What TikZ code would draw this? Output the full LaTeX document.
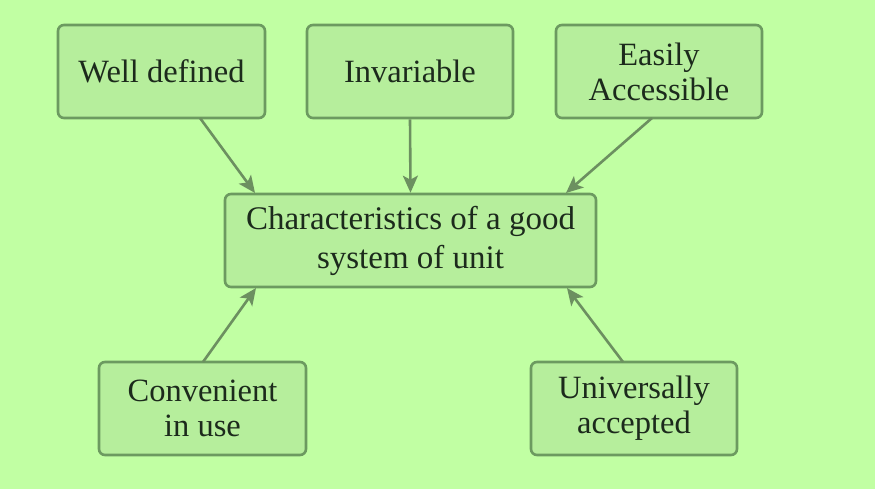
\documentclass[tikz,border=0pt]{standalone}
\usepackage{fontspec}
\setmainfont{Liberation Serif}
\usetikzlibrary{arrows.meta}
\definecolor{bgc}{HTML}{C1FFA3}
\definecolor{boxfill}{HTML}{B6EE9C}
\definecolor{boxdraw}{HTML}{6C9A60}
\definecolor{arrc}{HTML}{6C9060}
\definecolor{txt}{HTML}{1C2A1C}
\tikzset{
  card/.style={draw=boxdraw, fill=boxfill, line width=2.6pt, rounded corners=6pt,
    minimum height=93pt, inner sep=0pt, align=center, text=txt,
    font=\fontsize{32.5}{35}\selectfont},
  link/.style={draw=arrc, line width=2.6pt, -{Stealth[length=17pt,width=15pt,inset=4pt]}}
}
\begin{document}
\begin{tikzpicture}[x=1pt,y=-1pt]
\fill[bgc] (0,0) rectangle (875,489);
\useasboundingbox (0,0) rectangle (875,489);
\node[card, minimum width=207pt] (wd) at (161.5,71.5) {Well defined};
\node[card, minimum width=206pt] (inv) at (410,71.5) {Invariable};
\node[card, minimum width=206pt] (ea) at (659,71.5) {Easily\\Accessible};
\node[card, minimum width=371pt, font=\fontsize{33}{39}\selectfont] (c) at (410.5,240.5) {Characteristics of a good\\system of unit};
\node[card, minimum width=207pt] (cu) at (202.5,408.5) {Convenient\\in use};
\node[card, minimum width=206pt] (ua) at (634,408.5) {Universally\\accepted};
\coordinate (wdA) at (200,118);
\coordinate (eaA) at (652,118);
\coordinate (cuA) at (203,362);
\coordinate (uaA) at (623,362);
\coordinate (cT1) at (255,193);
\coordinate (cT3) at (566,193);
\coordinate (cB1) at (256,288);
\coordinate (cB3) at (567,288);
\draw[link] (wdA) -- (cT1);
\draw[link] (inv.south) -- (c.north);
\draw[link] (eaA) -- (cT3);
\draw[link] (cuA) -- (cB1);
\draw[link] (uaA) -- (cB3);
\end{tikzpicture}
\end{document}
